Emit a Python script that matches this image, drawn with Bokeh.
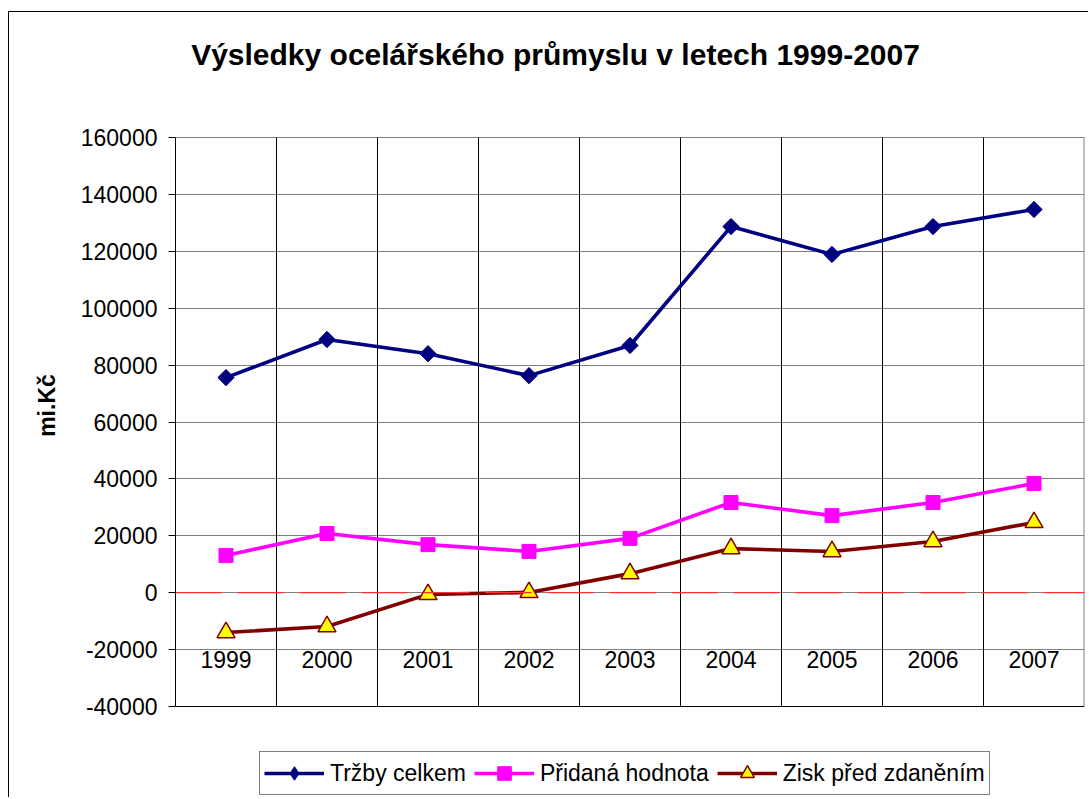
from bokeh.plotting import figure
from bokeh.models import (Range1d, FixedTicker, Span, Legend, LegendItem, Label,
                          NumeralTickFormatter)
from bokeh.core.properties import value
from bokeh.embed import file_html
from bokeh.resources import INLINE
import math

# ---- data ----
years = [1999, 2000, 2001, 2002, 2003, 2004, 2005, 2006, 2007]
year_labels = [str(y) for y in years]
trzby = [75600, 89000, 84000, 76300, 86900, 128700, 118900, 128700, 134700]
pridana = [13100, 20800, 16900, 14500, 19100, 31700, 27100, 31700, 38400]
zisk = [-14000, -11900, -600, 100, 6700, 15500, 14500, 18000, 24700]
y_ticks = [-40000, -20000, 0, 20000, 40000, 60000, 80000, 100000, 120000, 140000, 160000]

title_text = "Výsledky ocelářského průmyslu v letech 1999-2007"
y_label = "mi.Kč"
names = ["Tržby celkem", "Přidaná hodnota", "Zisk před zdaněním"]

FONT = "Liberation Sans"
FS = "23px"

# ---- layout geometry (pixels) ----
W, H = 1080, 786          # canvas size
PLOT_TOP, PLOT_BOTTOM = 125, 694   # value box inside canvas (px from canvas top)
ymin, ymax = y_ticks[0], y_ticks[-1]
upp = (ymax - ymin) / (PLOT_BOTTOM - PLOT_TOP)   # units per pixel
y_start = ymin - (H - PLOT_BOTTOM) * upp
y_end = ymax + PLOT_TOP * upp

p = figure(width=W, height=H, output_backend="svg", toolbar_location=None,
           x_range=Range1d(years[0] - 0.5, years[-1] + 0.5),
           y_range=Range1d(y_start, y_end),
           x_axis_location=None,
           min_border_left=166, min_border_right=5, min_border_top=0,
           min_border_bottom=0)
p.styles = {"margin-left": "8px", "margin-top": "11px",
            "border-left": "1px solid black", "border-top": "1px solid black"}
p.outline_line_color = None
p.background_fill_color = "white"
p.border_fill_color = "white"

# y axis
p.yaxis.ticker = FixedTicker(ticks=y_ticks)
p.yaxis.bounds = (ymin, ymax)
p.yaxis.formatter = NumeralTickFormatter(format="0")
p.yaxis.axis_line_color = "black"
p.yaxis.major_tick_line_color = "black"
p.yaxis.major_tick_out = 7
p.yaxis.major_tick_in = 0
p.yaxis.minor_tick_line_color = None
p.yaxis.major_label_standoff = 11
p.yaxis.major_label_text_font = FONT
p.yaxis.major_label_text_font_size = FS
p.yaxis.major_label_text_color = "black"
p.yaxis.axis_label = y_label
p.yaxis.axis_label_text_font = FONT
p.yaxis.axis_label_text_font_size = FS
p.yaxis.axis_label_text_font_style = "bold"
p.yaxis.axis_label_text_color = "black"
p.yaxis.axis_label_standoff = 18

# grids
p.xgrid.grid_line_color = None
p.ygrid.ticker = FixedTicker(ticks=y_ticks)
p.ygrid.grid_line_color = "#808080"
p.ygrid.grid_line_width = 1

sep = [y + 0.5 for y in years[:-1]]
p.segment(x0=sep, y0=[ymin] * len(sep), x1=sep, y1=[ymax] * len(sep),
          line_color="black", line_width=1)
p.segment(x0=[years[-1] + 0.5], y0=[ymin], x1=[years[-1] + 0.5], y1=[ymax],
          line_color="#808080", line_width=2)
p.segment(x0=[years[0] - 0.5], y0=[ymin], x1=[years[-1] + 0.5], y1=[ymin],
          line_color="black", line_width=1)

# zero line
p.add_layout(Span(location=0, dimension="width", line_color="#FF3030",
                  line_width=1.2, line_dash="46 16"))

# category labels
p.text(x=years, y=[y_ticks[1]] * len(years), text=year_labels,
       text_font=value(FONT), text_font_size=FS, text_color="black",
       text_align="center", text_baseline="top", y_offset=1)

# series
l1 = p.line(years, trzby, line_color="#000080", line_width=3.6)
d1 = p.scatter(years, trzby, marker="diamond", size=14,
               fill_color="#000080", line_color="#000080")
m1 = p.scatter(years, trzby, marker="square", size=11.5, angle=math.pi / 4,
               fill_color="#000080", line_color="#000080")
l2 = p.line(years, pridana, line_color="#FF00FF", line_width=3.6)
m2 = p.scatter(years, pridana, marker="square", size=14,
               fill_color="#FF00FF", line_color="#FF00FF")
l3 = p.line(years, zisk, line_color="#800000", line_width=3.6)
m3 = p.scatter(years, zisk, marker="triangle", size=18,
               fill_color="#FFFF00", line_color="#800000", line_width=1.5)

legend = Legend(items=[LegendItem(label=names[0], renderers=[l1, d1]),
                       LegendItem(label=names[1], renderers=[l2, m2]),
                       LegendItem(label=names[2], renderers=[l3, m3])],
                orientation="horizontal", location=(84, 3),
                label_text_font=FONT, label_text_font_size=FS,
                label_text_color="black",
                glyph_width=60, glyph_height=34, label_standoff=6,
                spacing=8, padding=4, margin=0,
                border_line_color="black", border_line_width=1,
                background_fill_color="white", background_fill_alpha=1)
p.add_layout(legend, "center")

# title
p.add_layout(Label(x=380, y=H - 42, x_units="screen", y_units="screen",
                   text=title_text, text_font=FONT, text_font_size="30px",
                   text_font_style="bold", text_align="center",
                   text_baseline="middle", text_color="black"))

open("out.html", "w").write(file_html(p, INLINE))
